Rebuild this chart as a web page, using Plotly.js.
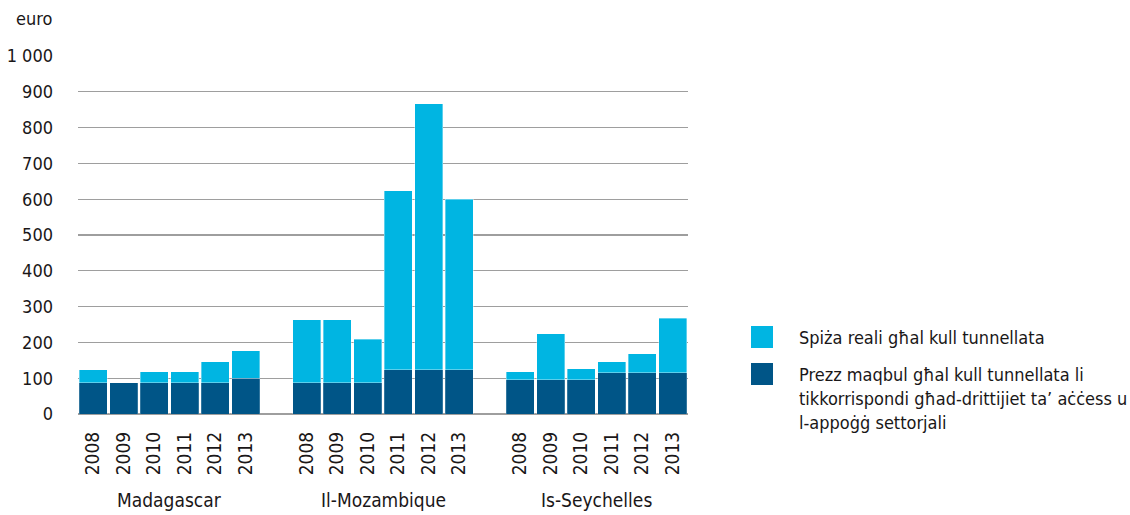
<!DOCTYPE html>
<html>
<head>
<meta charset="utf-8">
<script src="https://cdn.plot.ly/plotly-3.0.1.min.js"></script>
<style>
html,body{margin:0;padding:0;background:#fff;}
#chart{width:1130px;height:515px;}
text, tspan{font-stretch:condensed !important;}
</style>
</head>
<body>
<div id="chart"></div>
<script>
// ---- data ----
const years = ['2008', '2009', '2010', '2011', '2012', '2013'];
const countries = ['Madagascar', 'Il-Mozambique', 'Is-Seychelles'];
// accepted price per tonne (dark, bottom)
const acceptedMadagascar = [88, 88, 88, 88, 88, 100];
const acceptedMozambique = [88, 88, 88, 124, 124, 124];
const acceptedSeychelles = [95, 95, 95, 115, 115, 115];
// real cost per tonne (total height of the bar)
const realMadagascar = [123, 88, 118, 118, 146, 177];
const realMozambique = [263, 263, 209, 623, 866, 600];
const realSeychelles = [118, 224, 126, 146, 169, 268];
const yTickVals = [0, 100, 200, 300, 400, 500, 600, 700, 800, 900, 1000];
const yTickText = ['0', '100', '200', '300', '400', '500', '600', '700', '800', '900', '1 000'];
const seriesNames = ['Spiża reali għal kull tunnellata',
  'Prezz maqbul għal kull tunnellata li tikkorrispondi għad-drittijiet ta’ aċċess u l-appoġġ settorjali'];
const legendLines = [
  ['Spiża reali għal kull tunnellata'],
  ['Prezz maqbul għal kull tunnellata li', 'tikkorrispondi għad-drittijiet ta’ aċċess u', 'l-appoġġ settorjali']
];
const yUnit = 'euro';

// ---- build ----
const accepted = [acceptedMadagascar, acceptedMozambique, acceptedSeychelles];
const real = [realMadagascar, realMozambique, realSeychelles];
const xs = [], tickText = [], darkY = [], lightY = [];
countries.forEach((c, i) => {
  years.forEach((yr, j) => {
    xs.push(i * (years.length + 1) + j);
    tickText.push(yr);
    darkY.push(accepted[i][j]);
    lightY.push(real[i][j] - accepted[i][j]);
  });
});

const FONT = 'DejaVu Sans, Roboto, sans-serif';
const TXT = '#1a1718';
const LIGHT = '#00b5e2';
const DARK = '#005587';
const FS = 19;
const FS_Y = 18;
const FS_LEG = 18;

const W = 1130, H = 515;
const mL = 78, mR = 442, mT = 56, mB = 101;
const pw = W - mL - mR, ph = H - mT - mB;
const px = x => (x - mL) / pw;
const py = y => (H - mB - y) / ph;

const traces = [
  {type: 'bar', x: xs, y: darkY, name: seriesNames[1],
   marker: {color: DARK, line: {color: 'rgba(255,255,255,0.25)', width: 0.8}}, hoverinfo: 'y'},
  {type: 'bar', x: xs, y: lightY, name: seriesNames[0],
   marker: {color: LIGHT, line: {color: 'rgba(255,255,255,0.45)', width: 0.8}}, hoverinfo: 'y'}
];

const annotations = [];
countries.forEach((c, i) => {
  annotations.push({xref: 'x', yref: 'paper', x: i * (years.length + 1) + (years.length - 1) / 2, y: 0,
    yshift: -86, yanchor: 'middle', xanchor: 'center', showarrow: false, text: c,
    font: {family: FONT, size: FS, color: TXT}});
});
annotations.push({xref: 'paper', yref: 'paper', x: 0, y: 1, xanchor: 'right', yanchor: 'middle',
  xshift: -24, yshift: 38, showarrow: false, text: yUnit, font: {family: FONT, size: FS_Y, color: TXT}});

// custom legend
const legendColors = [LIGHT, DARK];
const rowCenters = [[337], [374, 398, 422]];
const shapes = [];
const boxTops = [326, 363];
legendLines.forEach((lines, k) => {
  shapes.push({type: 'rect', xref: 'paper', yref: 'paper', x0: px(751), x1: px(773),
    y0: py(boxTops[k]), y1: py(boxTops[k] + 22), fillcolor: legendColors[k], line: {width: 0}});
  lines.forEach((ln, m) => {
    annotations.push({xref: 'paper', yref: 'paper', x: px(797), y: py(rowCenters[k][m]),
      xanchor: 'left', yanchor: 'middle', showarrow: false, text: ln,
      font: {family: FONT, size: FS_LEG, color: TXT}});
  });
});

const layout = {
  width: W, height: H,
  margin: {l: mL, r: mR, t: mT, b: mB, pad: 0},
  paper_bgcolor: '#fff', plot_bgcolor: '#fff',
  barmode: 'stack', bargap: 0.075,
  showlegend: false,
  font: {family: FONT, size: FS, color: TXT},
  xaxis: {type: 'linear', range: [-0.5, xs[xs.length - 1] + 0.5], tickmode: 'array', tickvals: xs, ticktext: tickText,
    tickangle: -90, showgrid: false, zeroline: false, showline: false, ticks: '',
    ticklabelstandoff: 13, tickfont: {family: FONT, size: FS, color: TXT}, fixedrange: true},
  yaxis: {range: [0, 1000], tickmode: 'array', tickvals: yTickVals, ticktext: yTickText,
    showgrid: true, gridcolor: '#9e9e9e', gridwidth: 1.2, zeroline: true, zerolinecolor: '#9e9e9e', zerolinewidth: 1.2,
    showline: false, ticks: '', ticklabelstandoff: 24, tickfont: {family: FONT, size: FS_Y, color: TXT}, fixedrange: true},
  annotations: annotations,
  shapes: shapes
};

Plotly.newPlot('chart', traces, layout, {displayModeBar: false, staticPlot: true});
</script>
</body>
</html>
